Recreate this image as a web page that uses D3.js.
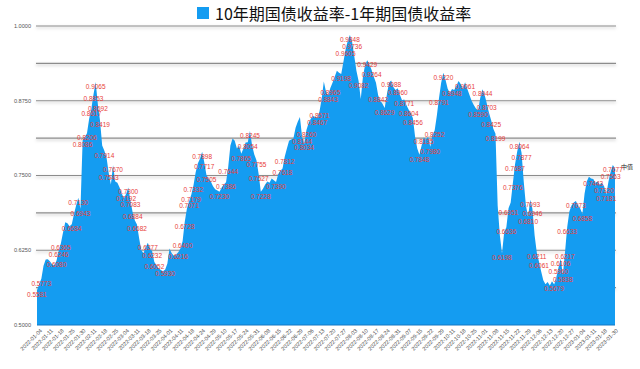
<!DOCTYPE html>
<html><head><meta charset="utf-8">
<script src="https://cdn.jsdelivr.net/npm/d3@7"></script>
<style>
html,body{margin:0;padding:0;background:#fff;}
svg{display:block;}
</style></head>
<body>
<svg id="chart" width="640" height="369"></svg>
<script>
const seriesName = "10年期国债收益率-1年期国债收益率";
const tickLabels = ["2022-01-04","2022-01-11","2022-01-18","2022-01-25","2022-01-30","2022-02-11","2022-02-18","2022-02-25","2022-03-04","2022-03-11","2022-03-18","2022-03-25","2022-04-01","2022-04-11","2022-04-18","2022-04-24","2022-04-29","2022-05-10","2022-05-17","2022-05-24","2022-05-31","2022-06-08","2022-06-15","2022-06-22","2022-06-29","2022-07-06","2022-07-13","2022-07-20","2022-07-27","2022-08-03","2022-08-10","2022-08-17","2022-08-24","2022-08-31","2022-09-07","2022-09-15","2022-09-22","2022-09-29","2022-10-11","2022-10-18","2022-10-25","2022-11-01","2022-11-08","2022-11-15","2022-11-22","2022-11-29","2022-12-06","2022-12-13","2022-12-20","2022-12-27","2023-01-04","2023-01-11","2023-01-18","2023-01-30"];
const tickStep = 5; // one tick label every 5 trading days
const values = [
0.5581,0.5680,0.5773,0.5990,0.6095,0.6100,0.6060,0.6010,0.6000,0.6080,
0.6246,0.6365,0.6550,0.6720,0.6700,0.6650,0.6684,0.6850,0.7000,0.7130,
0.6943,0.8086,0.8140,0.8206,0.8450,0.8617,0.8853,0.9065,0.8692,0.8419,
0.8000,0.7914,0.7800,0.7543,0.7350,0.7670,0.7400,0.7380,0.7300,0.7200,
0.7120,0.7192,0.7300,0.7083,0.6884,0.6750,0.6682,0.6450,0.6250,0.6200,
0.6300,0.6377,0.6280,0.6232,0.6052,0.6000,0.5950,0.5920,0.5900,0.5930,
0.6030,0.6280,0.6200,0.6160,0.6180,0.6216,0.6280,0.6400,0.6728,0.6950,
0.7071,0.7179,0.7332,0.7550,0.7700,0.7780,0.7898,0.7717,0.7505,0.7450,
0.7400,0.7320,0.7270,0.7250,0.7230,0.7300,0.7350,0.7386,0.7644,0.8000,
0.8120,0.8080,0.7950,0.8000,0.7865,0.7950,0.8050,0.8054,0.8245,0.8000,
0.7850,0.7755,0.7527,0.7228,0.7280,0.7350,0.7400,0.7380,0.7450,0.7420,
0.7390,0.7520,0.7580,0.7618,0.7812,0.7950,0.8080,0.8100,0.8120,0.8300,
0.8400,0.8480,0.8144,0.8034,0.8260,0.8380,0.8450,0.8500,0.8480,0.8467,
0.8571,0.8780,0.9070,0.8900,0.8843,0.8965,0.9050,0.9150,0.9250,0.9220,
0.9198,0.9400,0.9605,0.9750,0.9848,0.9736,0.9500,0.9250,0.9082,0.8780,
0.9150,0.9350,0.9429,0.9350,0.9264,0.9150,0.9050,0.8842,0.8750,0.8700,
0.8629,0.8850,0.9050,0.9088,0.8980,0.8930,0.8960,0.8850,0.8760,0.8771,
0.8680,0.8604,0.8550,0.8456,0.8150,0.7950,0.7848,0.8000,0.8135,0.8100,
0.8150,0.7980,0.8180,0.8252,0.8500,0.8791,0.9050,0.9220,0.9100,0.8950,
0.8880,0.8948,0.8930,0.9000,0.9080,0.9030,0.8950,0.9061,0.8950,0.8850,
0.8750,0.8680,0.8620,0.8590,0.8800,0.8944,0.8850,0.8703,0.8550,0.8425,
0.8280,0.8199,0.7000,0.6500,0.6198,0.6550,0.6636,0.6951,0.7050,0.7376,
0.7687,0.7900,0.8064,0.7877,0.7400,0.7000,0.6810,0.7093,0.6946,0.6500,
0.6211,0.6061,0.5900,0.5750,0.5680,0.5720,0.5660,0.5730,0.5679,0.5800,
0.5960,0.6106,0.5838,0.6217,0.6633,0.6900,0.7000,0.7050,0.7073,0.7000,
0.6950,0.6858,0.7200,0.7400,0.7480,0.7450,0.7443,0.7380,0.7400,0.7350,
0.7380,0.7320,0.7181,0.7400,0.7563,0.7677,0.7620
];
const labeledIndex = [0,2,9,10,11,16,19,20,21,23,25,26,27,28,29,31,33,35,41,42,43,44,46,51,53,54,59,65,67,68,70,71,72,76,77,78,84,87,88,94,97,98,101,102,103,110,113,114,122,123,124,129,130,134,135,140,142,144,145,148,152,154,157,160,163,166,169,171,173,176,178,181,183,185,187,191,197,203,205,207,209,211,214,216,217,219,220,222,223,226,227,228,230,231,238,240,241,242,243,244,248,251,256,261,262,264,265];
const yTicks = [0.5,0.5625,0.625,0.6875,0.75,0.8125,0.875,0.9375,1.0];
const yLabelTicks = [0.5,0.625,0.75,0.875,1.0];
const medianValue = 0.7640;
const medianLabel = "中值";

(function () {
const svg = d3.select("#chart");
const pL = 37, pR = 615, pT = 26, pB = 325;
const x = d3.scaleLinear().domain([0, values.length - 1]).range([pL, pR]);
const y = d3.scaleLinear().domain([0.5, 1.0]).range([pB, pT]);

const defs = svg.append("defs");
const f = defs.append("filter").attr("id","sh").attr("x","-5%").attr("y","-200%").attr("width","110%").attr("height","600%");
f.append("feDropShadow").attr("dx",0).attr("dy",1.5).attr("stdDeviation",1.5).attr("flood-color","#000").attr("flood-opacity",0.25);

// gridlines
const grid = svg.append("g").attr("filter","url(#sh)");
grid.selectAll("line").data(yTicks.slice(1)).join("line")
  .attr("x1", pL - 1).attr("x2", pR + 1)
  .attr("y1", d => y(d)).attr("y2", d => y(d))
  .attr("stroke", "#8c8c8c").attr("stroke-width", 1.2);

// y labels
svg.append("g").selectAll("text").data(yLabelTicks).join("text")
  .attr("x", 31).attr("y", d => y(d)).attr("dy","0.35em")
  .attr("text-anchor","end")
  .attr("font-family","Liberation Sans, Arial, sans-serif").attr("font-size",5.6)
  .attr("fill","#555").text(d => d3.format(".4f")(d));

// area
const area = d3.area().x((d,i) => x(i)).y0(y(0.5)).y1(d => y(d)).curve(d3.curveLinear);
svg.append("path").datum(values).attr("d", area).attr("fill", "#149cf1");
svg.append("line").attr("x1",pL).attr("x2",pR).attr("y1",pB).attr("y2",pB)
  .attr("stroke","#1278c4").attr("stroke-width",1);

// median line
svg.append("line").attr("x1", pL - 1).attr("x2", 620)
  .attr("y1", y(medianValue)).attr("y2", y(medianValue))
  .attr("stroke","#111").attr("stroke-width",1.1).attr("filter","url(#sh)");
svg.append("text").attr("x", 621).attr("y", y(medianValue)).attr("dy","0.35em")
  .attr("font-family","Noto Sans CJK SC, sans-serif").attr("font-size",6)
  .attr("fill","#222").text(medianLabel);

// value labels
svg.append("g").selectAll("text").data(labeledIndex).join("text")
  .attr("x", i => x(i)).attr("y", i => y(values[i]) + 4.6).attr("dy","0.35em")
  .attr("text-anchor","middle")
  .attr("font-family","Liberation Sans, Arial, sans-serif").attr("font-size",6.5)
  .attr("fill","#e8403a").text(i => d3.format(".4f")(values[i]));

// x axis
const tickIdx = tickLabels.map((d,k) => k * tickStep);
const xAxis = d3.axisBottom(x).tickValues(tickIdx).tickFormat((d,k) => tickLabels[k]).tickSize(0);
const gx = svg.append("g").attr("transform", `translate(0,${pB})`).call(xAxis);
gx.select(".domain").remove();
gx.selectAll("text")
  .attr("font-family","Liberation Sans, Arial, sans-serif").attr("font-size",5.5).attr("fill","#444")
  .attr("text-anchor","end").attr("dy",null).attr("y",0)
  .attr("transform","translate(5,6) rotate(-45)");

// title / legend
const title = svg.append("g");
title.append("rect").attr("x",197).attr("y",7).attr("width",12).attr("height",12).attr("fill","#149cf1");
title.append("text").attr("x",215).attr("y",19.5)
  .attr("font-family","Noto Sans CJK SC, sans-serif").attr("font-size",16).attr("fill","#111")
  .text(seriesName);
})();
</script>
</body></html>
